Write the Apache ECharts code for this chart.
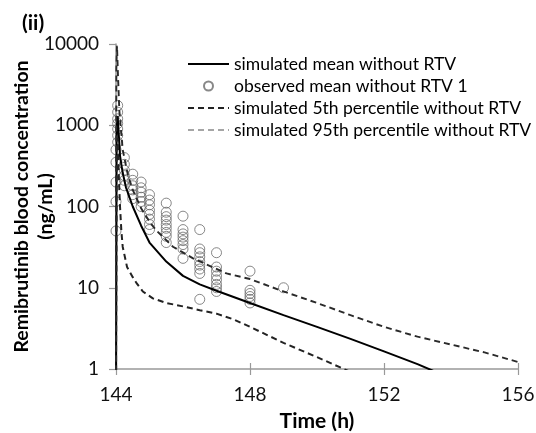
<!DOCTYPE html>
<html>
<head>
<meta charset="utf-8">
<script src="https://cdn.jsdelivr.net/npm/echarts@6/dist/echarts.min.js"></script>
<style>html,body{margin:0;padding:0;background:#fff}#c{width:536px;height:433px}</style>
</head>
<body>
<div id="c"></div>
<script>
// ---- data ----
const xTicks = [144, 148, 152, 156];
const yTicks = [1, 10, 100, 1000, 10000];

const meanTime = [144, 144.02, 144.05, 144.08, 144.12, 144.2, 144.3, 144.5, 144.75, 145, 145.5, 146, 146.5, 147, 148, 149, 150, 151, 152, 153, 153.6];
const meanConc = [0.3, 900, 1300, 800, 420, 260, 170, 100, 58, 36, 21, 14, 11, 9.2, 6.5, 4.6, 3.3, 2.35, 1.65, 1.15, 0.9];

const p5Time = [144, 144.02, 144.05, 144.08, 144.12, 144.16, 144.2, 144.33, 144.5, 144.62, 144.8, 145.1, 145.5, 146, 146.5, 147, 147.5, 148, 149, 150, 150.8, 151.2];
const p5Conc = [0.3, 500, 700, 250, 100, 50, 32, 18, 13.5, 11.3, 9, 7.4, 6.5, 5.9, 5.3, 4.8, 4.1, 3.3, 2.1, 1.4, 1.0, 0.85];

const p95Time = [144, 144.01, 144.03, 144.06, 144.1, 144.2, 144.35, 144.5, 144.75, 145, 145.2, 145.7, 146.3, 147.3, 148, 149, 150, 151, 152, 153, 154, 155, 156];
const p95Conc = [0.3, 5000, 9500, 4000, 1500, 500, 250, 160, 95, 65, 51, 32, 23, 15, 12.8, 9.0, 6.5, 4.6, 3.3, 2.5, 2.0, 1.6, 1.22];

const obsTime = [144.0, 144.05, 144.25, 144.5, 144.75, 145, 145.5, 146, 146.5, 147, 148, 149];
const obsConc = [
  [500, 350, 200, 115, 50],
  [1750, 1450, 1200, 1050, 900, 750, 620],
  [400, 330, 280, 240, 210, 180],
  [250, 210, 180, 160, 140, 125],
  [200, 170, 150, 130, 115, 100],
  [140, 120, 105, 90, 80, 70, 60, 52],
  [110, 85, 75, 68, 60, 54, 48, 43, 36],
  [76, 52, 46, 42, 38, 34, 30, 23],
  [52, 30, 27, 24, 21, 19, 17, 15, 7.2],
  [27, 18, 16, 14, 12.5, 11, 10, 9],
  [16, 9.3, 8.5, 7.8, 7.2, 6.5],
  [10]
];

const names = ['simulated mean without RTV', 'observed mean without RTV 1', 'simulated 5th percentile without RTV', 'simulated 95th percentile without RTV'];

// ---- build ----
const zip = (t, v) => t.map((x, i) => [x, v[i]]);
const obsData = [];
obsTime.forEach((t, i) => obsConc[i].forEach(v => obsData.push([t, v])));

const FONT = 'Lato';
const hideSym = {opacity: 0};
const chart = echarts.init(document.getElementById('c'), null, {renderer: 'canvas'});
chart.setOption({
  animation: false,
  backgroundColor: '#fff',
  title: {
    text: '(ii)', left: 17, top: 8,
    textStyle: {fontFamily: FONT, fontSize: 21, fontWeight: 'bold', color: '#000'}
  },
  legend: {
    left: 182, top: 50, orient: 'vertical',
    itemWidth: 41, itemHeight: 9, itemGap: 4,
    textStyle: {fontFamily: FONT, fontSize: 17.5, color: '#000'},
    data: [
      {name: names[0], itemStyle: hideSym},
      {name: names[1], icon: 'circle'},
      {name: names[2], itemStyle: hideSym},
      {name: names[3], itemStyle: hideSym, lineStyle: {color: '#888', width: 1.3}}
    ]
  },
  grid: {left: 116, right: 18, top: 44, bottom: 64, containLabel: false, outerBoundsMode: 'none'},
  xAxis: [{
    type: 'value', min: 144, max: 156, interval: 4,
    name: 'Time (h)', nameLocation: 'middle', nameGap: 42, nameMoveOverlap: false,
    nameTextStyle: {fontFamily: FONT, fontSize: 21, fontWeight: 'bold', color: '#000'},
    axisLine: {lineStyle: {color: '#999', width: 1.5}},
    axisTick: {length: 6, lineStyle: {color: '#999', width: 1.2}},
    axisLabel: {fontFamily: FONT, fontSize: 19, color: '#111', margin: 16,
      formatter: v => xTicks.includes(v) ? String(v) : ''},
    splitLine: {show: false}
  }, {
    type: 'value', min: 144, max: 156, interval: 4, position: 'bottom',
    axisLine: {show: false}, axisLabel: {show: false}, splitLine: {show: false},
    axisTick: {inside: true, length: 6, lineStyle: {color: '#999', width: 1.2}}
  }],
  yAxis: {
    type: 'log', logBase: 10, min: yTicks[0], max: yTicks[yTicks.length - 1],
    name: 'Remibrutinib blood concentration\n(ng/mL)', nameLocation: 'middle', nameGap: 58, nameMoveOverlap: false,
    nameTextStyle: {fontFamily: FONT, fontSize: 19.5, fontWeight: 'bold', color: '#000', lineHeight: 24},
    axisLine: {show: true, lineStyle: {color: '#999', width: 1.5}},
    axisTick: {show: true, length: 7, lineStyle: {color: '#999', width: 1.2}},
    axisLabel: {fontFamily: FONT, fontSize: 19, color: '#111', margin: 17,
      formatter: v => String(Math.round(v))},
    splitLine: {show: false}
  },
  series: [
    {name: names[0], type: 'line', data: zip(meanTime, meanConc), showSymbol: false, symbol: 'none',
      lineStyle: {color: '#000', width: 2}, itemStyle: {color: '#000'}, z: 4},
    {name: names[1], type: 'scatter', data: obsData, symbol: 'circle', symbolSize: 10,
      itemStyle: {color: 'rgba(0,0,0,0)', borderColor: '#6a6a6a', borderWidth: 1}, z: 3},
    {name: names[2], type: 'line', data: zip(p5Time, p5Conc), showSymbol: false, symbol: 'none',
      lineStyle: {color: '#222', width: 2, type: [6, 4]}, itemStyle: {color: '#222'}, z: 4},
    {name: names[3], type: 'line', data: zip(p95Time, p95Conc), showSymbol: false, symbol: 'none',
      lineStyle: {color: '#2a2a2a', width: 1.9, type: [6, 4]}, itemStyle: {color: '#888'}, z: 4}
  ]
});
</script>
</body>
</html>
